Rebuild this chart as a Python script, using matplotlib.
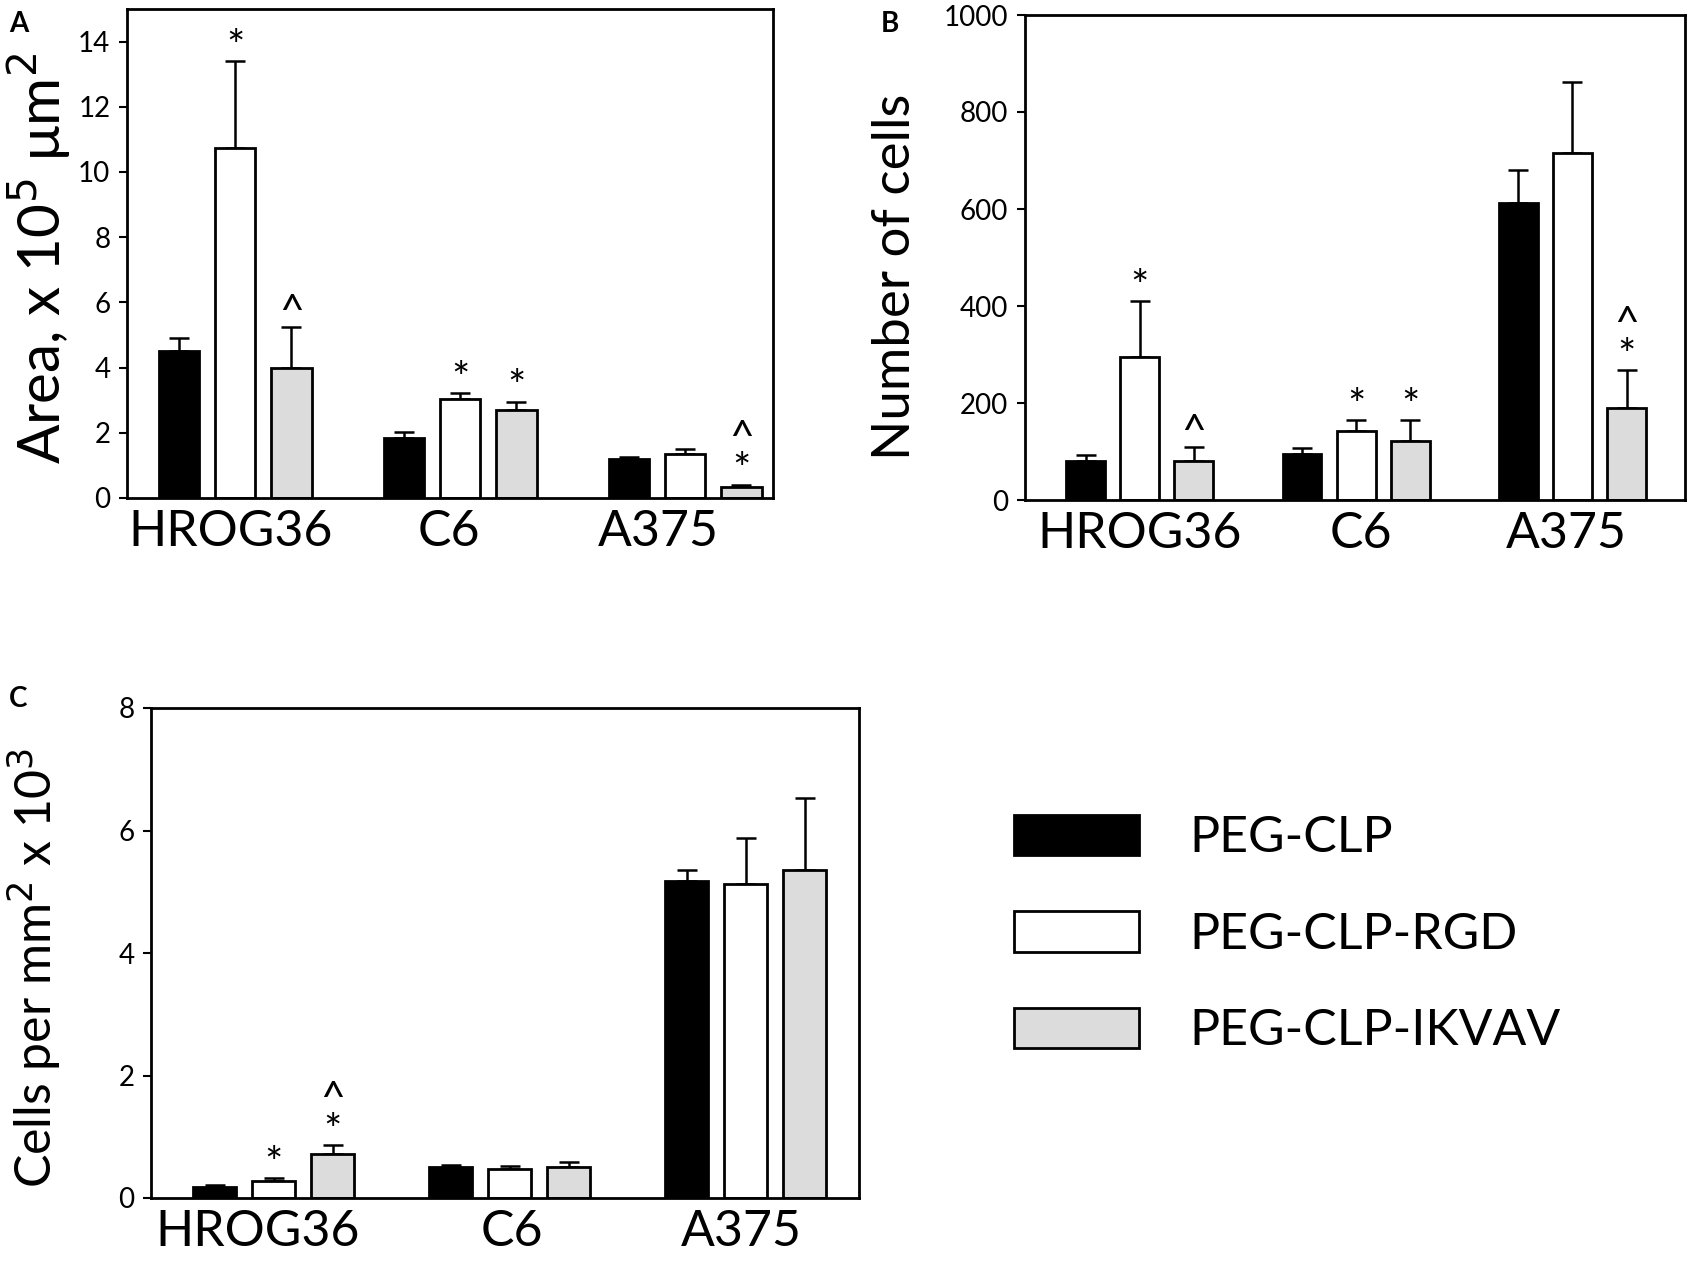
import matplotlib
matplotlib.use("Agg")
import matplotlib.pyplot as plt
from matplotlib.patches import Patch
import numpy as np

plt.rcParams['font.family'] = ['Lato', 'DejaVu Sans']

categories = ["HROG36", "C6", "A375"]
series = ["PEG-CLP", "PEG-CLP-RGD", "PEG-CLP-IKVAV"]

# Panel A: Area, x10^5 um^2
a_clp = [4.5, 1.85, 1.2]
a_clp_err = [0.4, 0.17, 0.06]
a_rgd = [10.75, 3.05, 1.35]
a_rgd_err = [2.65, 0.17, 0.15]
a_ikvav = [4.0, 2.7, 0.35]
a_ikvav_err = [1.25, 0.25, 0.06]
a_marks_clp = ["", "", ""]
a_marks_rgd = ["*", "*", ""]
a_marks_ikvav = ["^", "*", "^\n*"]

# Panel B: Number of cells
b_clp = [80, 95, 612]
b_clp_err = [13, 13, 68]
b_rgd = [295, 143, 715]
b_rgd_err = [115, 22, 147]
b_ikvav = [80, 122, 190]
b_ikvav_err = [30, 43, 78]
b_marks_clp = ["", "", ""]
b_marks_rgd = ["*", "*", ""]
b_marks_ikvav = ["^", "*", "^\n*"]

# Panel C: Cells per mm^2 x 10^3
c_clp = [0.18, 0.50, 5.17]
c_clp_err = [0.04, 0.04, 0.18]
c_rgd = [0.28, 0.48, 5.12]
c_rgd_err = [0.04, 0.04, 0.75]
c_ikvav = [0.72, 0.50, 5.35]
c_ikvav_err = [0.14, 0.08, 1.18]
c_marks_clp = ["", "", ""]
c_marks_rgd = ["*", "", ""]
c_marks_ikvav = ["^\n*", "", ""]

colors = ["black", "white", "#dcdcdc"]

fig = plt.figure(figsize=(16.88, 12.63), dpi=100)

W, H = 1688.0, 1263.0
def axrect(l, t, r, b):
    return [l / W, 1 - b / H, (r - l) / W, (b - t) / H]

def panel(ax, vals, errs, marks, ylim, yticks, ylabel, xlim, ylabel_size,
          labelpad, label_shift, label_y):
    x = np.arange(len(categories))
    offsets = [-0.25, 0.0, 0.25]
    width = 0.18
    for i in range(3):
        xs = x + offsets[i]
        ax.bar(xs, vals[i], width=width, color=colors[i], edgecolor="black",
               linewidth=2.0, zorder=2)
        ax.errorbar(xs, vals[i], yerr=[np.zeros(3), errs[i]], fmt="none",
                    ecolor="black", elinewidth=1.8, capsize=7, capthick=1.8, zorder=1)
        for j in range(3):
            m = marks[i][j]
            if m:
                top = vals[i][j] + errs[i][j]
                ax.annotate(m, (xs[j], top), xytext=(0, -4), textcoords="offset points",
                            ha="center", va="bottom", fontsize=31,
                            linespacing=0.8)
    ax.set_xlim(*xlim)
    ax.set_ylim(*ylim)
    ax.set_yticks(yticks)
    ax.set_xticks(x + np.array(label_shift))
    ax.set_xticklabels(categories, fontsize=36)
    ax.tick_params(axis="x", length=0, pad=8)
    ax.tick_params(axis="y", direction="out", length=6, width=1.5, labelsize=20, pad=6)
    for s in ax.spines.values():
        s.set_linewidth(2.0)
    ax.set_ylabel(ylabel, fontsize=ylabel_size, labelpad=labelpad)
    ax.yaxis.label.set_y(label_y)

axA = fig.add_axes(axrect(127, 9, 773, 498))
panel(axA, [a_clp, a_rgd, a_ikvav], [a_clp_err, a_rgd_err, a_ikvav_err],
      [a_marks_clp, a_marks_rgd, a_marks_ikvav], (0, 15), range(0, 15, 2),
      r"Area, x 10$^5$ $\mathregular{\mu}$m$^2$", (-0.48, 2.39), 42, 4,
      [-0.02, -0.05, -0.12], 0.49)

axB = fig.add_axes(axrect(1025, 15, 1685, 500))
panel(axB, [b_clp, b_rgd, b_ikvav], [b_clp_err, b_rgd_err, b_ikvav_err],
      [b_marks_clp, b_marks_rgd, b_marks_ikvav], (0, 1000), range(0, 1001, 200),
      "Number of cells", (-0.53, 2.52), 38, 18, [0.0, 0.02, -0.03], 0.46)

axC = fig.add_axes(axrect(151, 708, 859, 1198))
panel(axC, [c_clp, c_rgd, c_ikvav], [c_clp_err, c_rgd_err, c_ikvav_err],
      [c_marks_clp, c_marks_rgd, c_marks_ikvav], (0, 8), range(0, 9, 2),
      r"Cells per mm$^2$ x 10$^3$", (-0.52, 2.48), 36, 40, [-0.07, 0.01, -0.02], 0.47)

fig.text(9 / W, 1 - 11 / H, "A", fontsize=20, fontweight="bold", va="top", ha="left")
fig.text(881 / W, 1 - 11 / H, "B", fontsize=20, fontweight="bold", va="top", ha="left")
fig.text(9 / W, 1 - 686 / H, "C", fontsize=20, fontweight="bold", va="top", ha="left")

handles = [Patch(facecolor=colors[i], edgecolor="black", linewidth=2.0) for i in range(3)]
fig.legend(handles, series, loc="upper left", bbox_to_anchor=(1014 / W, 1 - 815 / H),
           frameon=False, fontsize=36, handlelength=2.5, handleheight=0.86,
           handletextpad=1.0, labelspacing=1.0, borderpad=0, borderaxespad=0)

fig.savefig("out.png", dpi=100)
